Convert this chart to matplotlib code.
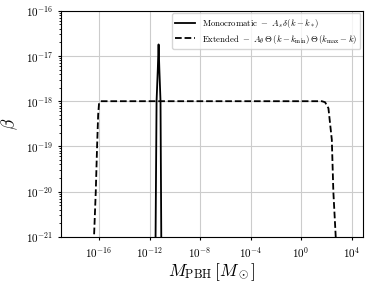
import matplotlib
matplotlib.use('Agg')
import matplotlib.pyplot as plt
from matplotlib.ticker import NullLocator

plt.rcParams['mathtext.fontset'] = 'cm'
plt.rcParams['font.family'] = 'serif'
plt.rcParams['font.serif'] = ['cmr10', 'DejaVu Serif']
plt.rcParams['axes.unicode_minus'] = False
plt.rcParams['axes.formatter.use_mathtext'] = True

# Monocromatic spike (M in solar masses, beta)
mono_m = [2.8e-12, 3.0e-12, 3.6e-12, 4.5e-12, 5.2e-12, 6.0e-12, 7.4e-12, 8.5e-12, 9.0e-12]
mono_beta = [1e-22, 1e-21, 1e-18, 5e-18, 1.8e-17, 5e-18, 1e-18, 1e-21, 1e-22]

# Extended plateau
ext_m = [3.2e-17, 4.0e-17, 5.5e-17, 7.0e-17, 8.5e-17, 1.0e-16, 1.3e-16,
         1e-10, 1e-4, 1e0, 44, 80, 148, 275, 363, 560, 700]
ext_beta = [1e-22, 1e-21, 1e-20, 1e-19, 5e-19, 9e-19, 1e-18,
            1e-18, 1e-18, 1e-18, 1e-18, 9.5e-19, 7e-19, 1.4e-19, 1e-20, 1e-21, 1e-22]

x_ticks = [1e-16, 1e-12, 1e-8, 1e-4, 1e0, 1e4]

fig, ax = plt.subplots(figsize=(3.73, 2.83), dpi=100)
ax.plot(mono_m, mono_beta, color='black', lw=1.3,
        label=r'$\mathrm{Monocromatic}\ -\ A_s\,\delta(k-k_*)$')
ax.plot(ext_m, ext_beta, color='black', lw=1.3, ls='--',
        label=r'$\mathrm{Extended}\ -\ A_\theta\,\Theta\,(k-k_{\rm min})\,\Theta\,(k_{\rm max}-k)$')
ax.set_xscale('log')
ax.set_yscale('log')
ax.set_xlim(1e-19, 8e4)
ax.set_ylim(1e-21, 1e-16)
ax.set_xticks(x_ticks)
ax.xaxis.set_minor_locator(NullLocator())
ax.grid(True, which='major', color='#cccccc', lw=0.8)
ax.set_xlabel(r'$M_{\rm PBH}\,[M_\odot]$', fontsize=12.5, labelpad=1)
ax.set_ylabel(r'$\beta$', fontsize=12.5, labelpad=4)
ax.tick_params(labelsize=8, length=2.5)
ax.tick_params(which='minor', length=1.5)
ax.legend(loc='upper right', fontsize=6.3, handlelength=2.2, borderpad=0.4,
          labelspacing=0.3, framealpha=0.8, borderaxespad=0.3)
plt.subplots_adjust(left=0.164, right=0.973, top=0.962, bottom=0.163)
plt.savefig('out.png')
